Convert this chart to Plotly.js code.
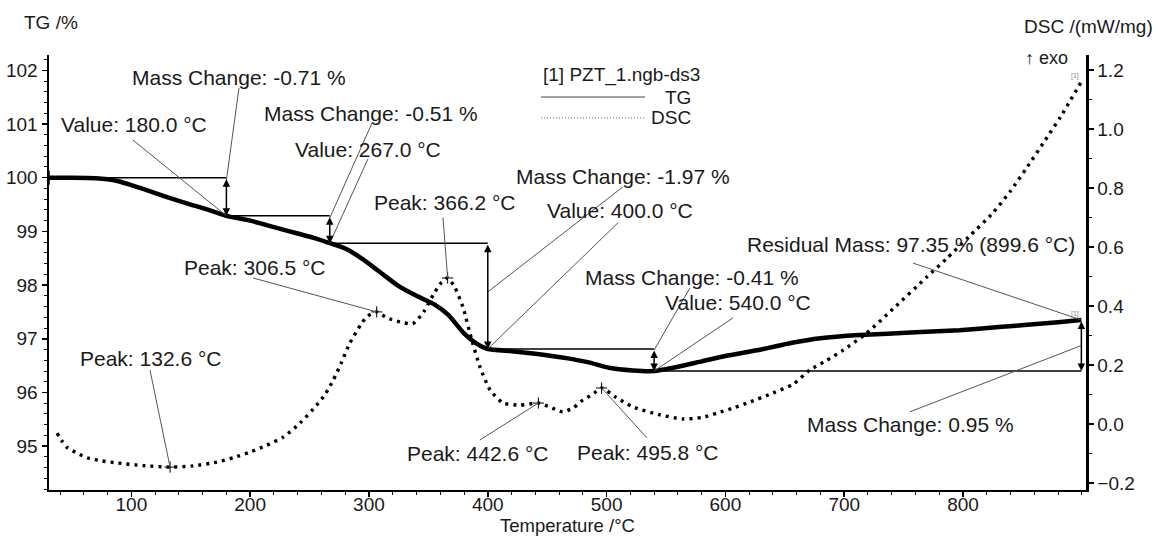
<!DOCTYPE html>
<html><head><meta charset="utf-8">
<script src="https://cdn.plot.ly/plotly-3.0.1.min.js"></script>
<style>html,body{margin:0;padding:0;background:#fff}#chart{width:1159px;height:537px}</style>
</head><body><div id="chart"></div>
<script>
// ---- data ----
const tgTemp = [30.7, 50, 70, 80, 90, 100, 110, 130, 150, 165, 180, 200, 220, 240, 255, 267, 280, 295, 310, 325, 340, 355, 367, 380, 390, 400, 420, 440, 466, 485, 502, 522, 540, 560, 580, 600, 630, 655, 680, 713, 760, 797, 830, 854, 880, 899.6];
const tgMass = [100.0, 100.0, 99.99, 99.97, 99.93, 99.86, 99.79, 99.64, 99.50, 99.40, 99.29, 99.20, 99.08, 98.96, 98.87, 98.78, 98.68, 98.48, 98.23, 97.98, 97.80, 97.64, 97.44, 97.10, 96.92, 96.81, 96.77, 96.72, 96.64, 96.56, 96.46, 96.41, 96.40, 96.48, 96.58, 96.68, 96.80, 96.92, 97.01, 97.07, 97.12, 97.16, 97.22, 97.26, 97.31, 97.35];

const dscTemp = [37.5, 42, 46, 55, 63, 75, 88, 110, 132.6, 152, 172, 186, 200, 214, 228, 242, 256, 263, 270, 277, 284, 293, 298, 306.5, 315, 326, 337, 346, 354, 360, 366.2, 372, 379, 387, 393.5, 402, 413, 427, 442.6, 452, 463, 472, 480, 488, 495.8, 508, 522, 545, 564, 580, 593, 607, 621, 640, 657, 671, 685, 699, 719, 741, 770, 786, 805, 825, 840, 854, 868, 882, 899.6];
const dscVal  = [-0.031, -0.06, -0.08, -0.10, -0.115, -0.125, -0.132, -0.141, -0.146, -0.142, -0.129, -0.114, -0.095, -0.072, -0.044, 0.003, 0.064, 0.10, 0.149, 0.21, 0.275, 0.336, 0.363, 0.38, 0.36, 0.346, 0.34, 0.38, 0.437, 0.475, 0.495, 0.465, 0.397, 0.278, 0.193, 0.115, 0.071, 0.064, 0.071, 0.058, 0.041, 0.055, 0.081, 0.10, 0.122, 0.09, 0.058, 0.031, 0.017, 0.022, 0.037, 0.055, 0.075, 0.105, 0.135, 0.183, 0.215, 0.25, 0.308, 0.39, 0.50, 0.56, 0.635, 0.715, 0.79, 0.871, 0.955, 1.041, 1.16];

const peakTemp = [132.6, 306.5, 366.2, 442.6, 495.8];
const peakDsc  = [-0.146, 0.38, 0.495, 0.071, 0.122];

const startTemp = 30.7, startMass = 100.0;
const stepTemp = [180, 267, 400, 540];
const stepMass = [99.29, 98.78, 96.81, 96.40];
const massChange = [-0.71, -0.51, -1.97, -0.41];
const residualTemp = 899.6, residualMass = 97.35, finalChange = 0.95;

const xTickVals = [100, 200, 300, 400, 500, 600, 700, 800];
const tgTickVals = [95, 96, 97, 98, 99, 100, 101, 102];

// ---- label layout (positions of texts / leader starts) ----
const massLabelPos  = [[99.0,101.875],[210,101.19],[422.1,100.03],[480.1,98.15]];
const valueLabelPos = [[39.1,101.0],[236.1,100.53],[448.2,99.38],[547.5,97.67]];
const peakLabelPos  = [[55.1,96.64],[142.7,98.32],[302.6,99.53],[330.3,94.87],[473.4,94.89]];
const massLeaderStart  = [[190.6,101.67],[302.6,101.02],[513.8,99.83],[570.2,97.95]];
const massLeaderFrac   = [0.07, 0.08, 0.46, 0.05];
const valueLeaderStart = [[101.4,100.70],[299.2,100.35],[509.6,99.16],[606.4,97.39]];
const peakLeaderStart  = [[115.7,0.183],[202.4,0.495],[362.3,0.70],[393.4,-0.054],[534,-0.047]];
const residualLabelPos = [616.5, 98.75], residualLeaderStart = [757.9, 98.41];
const finalLabelPos = [667, 95.41], finalLeaderStart = [755.3, 95.64];

const FONT = 'Liberation Sans, Arial, DejaVu Sans, sans-serif';
const TXT = '#1a1a1a';
const LEAD = '#555555';

const traces = [];
// step horizontal lines
const prevT = [startTemp].concat(stepTemp.slice(0, -1));
const prevM = [startMass].concat(stepMass.slice(0, -1));
for (let i = 0; i < stepTemp.length; i++) {
  traces.push({x:[prevT[i], stepTemp[i]], y:[prevM[i], prevM[i]], mode:'lines', line:{color:'#000', width:1.5}, hoverinfo:'skip', showlegend:false});
}
traces.push({x:[stepTemp[stepTemp.length-1], residualTemp], y:[stepMass[stepMass.length-1], stepMass[stepMass.length-1]], mode:'lines', line:{color:'#000', width:1.5}, hoverinfo:'skip', showlegend:false});

traces.push({x: dscTemp, y: dscVal, yaxis:'y2', mode:'lines', line:{color:'#000', width:3.4, dash:'3px,5px', shape:'spline', smoothing:0.6}, hoverinfo:'skip', showlegend:false, name:'DSC'});
traces.push({x: tgTemp, y: tgMass, mode:'lines', line:{color:'#000', width:4.5, shape:'spline', smoothing:0.5}, hoverinfo:'skip', showlegend:false, name:'TG'});
traces.push({x: peakTemp, y: peakDsc, yaxis:'y2', mode:'markers', marker:{symbol:'cross-thin', size:8, line:{color:'#000', width:1}}, hoverinfo:'skip', showlegend:false});
traces.push({x: [startTemp], y: [startMass], mode:'markers', marker:{symbol:'cross-thin', size:10, line:{color:'#000', width:1.5}}, hoverinfo:'skip', showlegend:false});

const shapes = [];
const annotations = [];
function txt(x, y, text, extra) {
  return Object.assign({x, y, xref:'x', yref:'y', text, showarrow:false, xanchor:'left', yanchor:'middle', font:{family:FONT, size:21, color:TXT}}, extra || {});
}
function lead(p0, p1, yref) {
  shapes.push({type:'line', xref:'x', yref, x0:p0[0], y0:p0[1], x1:p1[0], y1:p1[1], line:{color:LEAD, width:1}});
}
function dbl(x, y0, y1) {
  annotations.push({x, y:y1, ax:x, ay:y0, xref:'x', yref:'y', axref:'x', ayref:'y', text:'', showarrow:true, arrowside:'end+start', arrowhead:2, arrowsize:1, arrowwidth:1.5, arrowcolor:'#000', standoff:0, startstandoff:0});
}

for (let i = 0; i < stepTemp.length; i++) {
  dbl(stepTemp[i], prevM[i], stepMass[i]);
  annotations.push(txt(massLabelPos[i][0], massLabelPos[i][1], 'Mass Change: ' + massChange[i].toFixed(2) + ' %'));
  annotations.push(txt(valueLabelPos[i][0], valueLabelPos[i][1], 'Value: ' + stepTemp[i].toFixed(1) + ' °C'));
  lead(massLeaderStart[i], [stepTemp[i], prevM[i] + massLeaderFrac[i]*(stepMass[i]-prevM[i])], 'y');
  lead(valueLeaderStart[i], [stepTemp[i], stepMass[i]], 'y');
}
for (let i = 0; i < peakTemp.length; i++) {
  annotations.push(txt(peakLabelPos[i][0], peakLabelPos[i][1], 'Peak: ' + peakTemp[i].toFixed(1) + ' °C'));
  lead(peakLeaderStart[i], [peakTemp[i], peakDsc[i]], 'y2');
}
const lastLevel = stepMass[stepMass.length-1];
dbl(residualTemp, residualMass, lastLevel);
annotations.push(txt(residualLabelPos[0], residualLabelPos[1], 'Residual Mass: ' + residualMass.toFixed(2) + ' % (' + residualTemp.toFixed(1) + ' °C)'));
lead(residualLeaderStart, [residualTemp, residualMass], 'y');
annotations.push(txt(finalLabelPos[0], finalLabelPos[1], 'Mass Change: ' + finalChange.toFixed(2) + ' %'));
lead(finalLeaderStart, [residualTemp, (residualMass + lastLevel)/2], 'y');

// tiny curve tags
annotations.push({x: dscTemp[dscTemp.length-1], y: dscVal[dscVal.length-1], xref:'x', yref:'y2', text:'[1]', showarrow:false, xanchor:'right', yanchor:'bottom', font:{family:FONT, size:7, color:'#888'}});
annotations.push({x: tgTemp[tgTemp.length-1], y: tgMass[tgMass.length-1], xref:'x', yref:'y', text:'[1]', showarrow:false, xanchor:'right', yanchor:'bottom', font:{family:FONT, size:7, color:'#888'}});

// axis titles & legend (paper coords)
function ptxt(x, y, text, xanchor, size) {
  return {x, y, xref:'paper', yref:'paper', text, showarrow:false, xanchor, yanchor:'middle', font:{family:FONT, size:size, color:TXT}};
}
annotations.push(ptxt(-0.026, 1.0736, 'TG /%', 'left', 19));
annotations.push(ptxt(1.0665, 1.0644, 'DSC /(mW/mg)', 'right', 19));
annotations.push(ptxt(0.9846, 0.993, '↑ exo', 'right', 18));
annotations.push(ptxt(0.5, -0.0805, 'Temperature /°C', 'center', 18.5));
annotations.push(ptxt(0.4745, 0.954, '[1] PZT_1.ngb-ds3', 'left', 19));
annotations.push(ptxt(0.621, 0.9034, 'TG', 'right', 19));
annotations.push(ptxt(0.621, 0.8552, 'DSC', 'right', 19));
shapes.push({type:'line', xref:'paper', yref:'paper', x0:0.4745, x1:0.5748, y0:0.9034, y1:0.9034, line:{color:'#444', width:1}});
shapes.push({type:'line', xref:'paper', yref:'paper', x0:0.4745, x1:0.5748, y0:0.8552, y1:0.8552, line:{color:'#666', width:1, dash:'1px,2px'}});

const layout = {
  width:1159, height:537,
  margin:{l:49, r:73, t:55, b:47, pad:0},
  paper_bgcolor:'#fff', plot_bgcolor:'#fff',
  showlegend:false,
  font:{family:FONT, size:19, color:TXT},
  xaxis:{range:[30.7, 903.5], tickvals:xTickVals, ticks:'outside', ticklen:5, tickwidth:1.5, tickcolor:'#000',
         ticklabelstandoff:-9,
         showline:true, linewidth:2, linecolor:'#000', showgrid:false, zeroline:false,
         tickfont:{family:FONT, size:19, color:TXT},
         minor:{tick0:0, dtick:20, ticks:'outside', ticklen:3, tickwidth:1, tickcolor:'#000', showgrid:false}},
  yaxis:{range:[94.184, 102.285], tickvals:tgTickVals, ticks:'outside', ticklen:5, tickwidth:1.5, tickcolor:'#000',
         showline:true, linewidth:2.5, linecolor:'#000', showgrid:false, zeroline:false,
         tickfont:{family:FONT, size:19, color:TXT},
         minor:{tick0:0, dtick:0.2, ticks:'outside', ticklen:3, tickwidth:1, tickcolor:'#000', showgrid:false}},
  yaxis2:{range:[-0.2237, 1.2508], overlaying:'y', side:'right', dtick:0.2, tick0:0, tickformat:'.1f',
          ticks:'outside', ticklen:5, tickwidth:1.5, tickcolor:'#000',
          showline:true, linewidth:2.5, linecolor:'#000', showgrid:false, zeroline:false,
          tickfont:{family:FONT, size:19, color:TXT},
          minor:{tick0:0, dtick:0.1, ticks:'outside', ticklen:3, tickwidth:1, tickcolor:'#000', showgrid:false}},
  shapes, annotations
};
Plotly.newPlot('chart', traces, layout, {staticPlot:true, displayModeBar:false});
</script></body></html>
